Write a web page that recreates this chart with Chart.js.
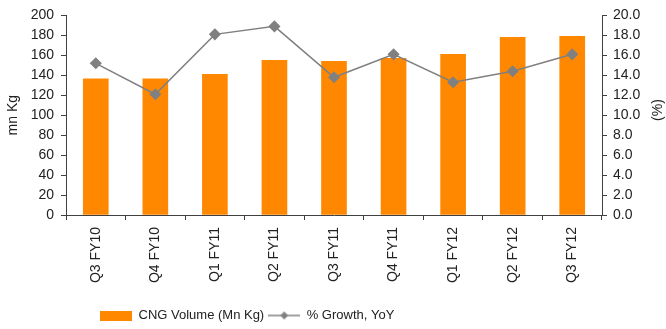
<!DOCTYPE html>
<html>
<head>
<meta charset="utf-8">
<script src="https://cdn.jsdelivr.net/npm/chart.js@4/dist/chart.umd.min.js"></script>
<style>
  html, body { margin: 0; padding: 0; background: #fff; }
  #wrap { width: 666px; height: 329px; }
</style>
</head>
<body>
<div id="wrap"><canvas id="cngChart"></canvas></div>
<script>
// CNG volume and growth by quarter

const quarters = ["Q3 FY10", "Q4 FY10", "Q1 FY11", "Q2 FY11", "Q3 FY11", "Q4 FY11", "Q1 FY12", "Q2 FY12", "Q3 FY12"];
const cngVolume = [136.5, 136.5, 141, 155, 154, 157, 161, 178, 179];
const growthYoY = [15.2, 12.1, 18.1, 18.9, 13.8, 16.1, 13.3, 14.4, 16.1];

const orange = "#ff8800";
const grey = "#808080";
const axisColor = "#404040";
const font = { family: "'Liberation Sans', Arial, sans-serif", size: 14 };
const legendFont = { family: "'Liberation Sans', Arial, sans-serif", size: 13 };

// legend swatches
const barSwatch = document.createElement("canvas");
barSwatch.width = 32;
barSwatch.height = 10;
let c = barSwatch.getContext("2d");
c.fillStyle = orange;
c.fillRect(0, 0, 32, 10);

const lineSwatch = document.createElement("canvas");
lineSwatch.width = 32;
lineSwatch.height = 10;
c = lineSwatch.getContext("2d");
c.strokeStyle = grey;
c.lineWidth = 1.5;
c.beginPath();
c.moveTo(0, 5);
c.lineTo(32, 5);
c.stroke();
c.fillStyle = grey;
c.beginPath();
c.moveTo(16, 1);
c.lineTo(20, 5);
c.lineTo(16, 9);
c.lineTo(12, 5);
c.closePath();
c.fill();

const layoutFix = {
  id: "layoutFix",
  afterLayout(chart) {
    const lg = chart.legend;
    const h = lg.bottom - lg.top;
    lg.left = 96;
    lg.top = 305;
    lg.bottom = lg.top + h;
  },
  afterDraw(chart) {
    const ctx = chart.ctx;
    ctx.save();
    ctx.translate(658, 110);
    ctx.rotate(-Math.PI / 2);
    ctx.font = "14px 'Liberation Sans', Arial, sans-serif";
    ctx.fillStyle = "#222";
    ctx.textAlign = "center";
    ctx.textBaseline = "middle";
    ctx.fillText("(%)", 0, 0);
    ctx.restore();
  },
};

const ctxChart = document.querySelector("#cngChart");
const chart = new Chart(ctxChart, {
  data: {
    labels: quarters,
    datasets: [
      {
        type: "bar",
        label: "CNG Volume (Mn Kg)",
        data: cngVolume,
        backgroundColor: orange,
        barThickness: 25,
        yAxisID: "y",
        order: 2,
      },
      {
        type: "line",
        label: "% Growth, YoY",
        data: growthYoY,
        borderColor: grey,
        borderWidth: 1.5,
        pointStyle: "rectRot",
        pointRadius: 5,
        pointBackgroundColor: grey,
        pointBorderColor: grey,
        yAxisID: "y1",
        order: 1,
      },
    ],
  },
  options: {
    responsive: true,
    maintainAspectRatio: false,
    animation: false,
    layout: { padding: { top: 14, left: 0, right: 0, bottom: 0 } },
    plugins: {
      legend: {
        position: "bottom",
        align: "start",
        labels: {
          usePointStyle: true,
          pointStyleWidth: 32,
          padding: 4,
          color: "#222",
          font: legendFont,
          generateLabels: (ch) =>
            ch.data.datasets.map((ds, i) => ({
              text: ds.label,
              pointStyle: i === 0 ? barSwatch : lineSwatch,
              datasetIndex: i,
              fontColor: "#222",
              lineWidth: 0,
              hidden: false,
            })),
        },
      },
      tooltip: { enabled: false },
    },
    scales: {
      x: {
        grid: { drawOnChartArea: false, tickLength: 5, color: axisColor },
        border: { color: axisColor },
        ticks: { minRotation: 90, maxRotation: 90, color: "#222", font: font, padding: 7 },
        afterFit: (s) => { s.height = 329 - 215 - s.chart.legend.height; },
      },
      y: {
        position: "left",
        min: 0,
        max: 200,
        grid: { drawOnChartArea: false, tickLength: 5, color: axisColor },
        border: { color: axisColor },
        ticks: { stepSize: 20, color: "#222", font: font, padding: 7 },
        title: { display: true, text: "mn Kg", color: "#222", font: font, padding: { top: 5, bottom: 0 } },
        afterFit: (s) => { s.width = 66; },
      },
      y1: {
        position: "right",
        min: 0,
        max: 20,
        grid: { drawOnChartArea: false, tickLength: 5, color: axisColor },
        border: { color: axisColor },
        ticks: {
          stepSize: 2,
          color: "#222",
          font: font,
          padding: 6,
          callback: (v) => v.toFixed(1),
        },
        afterFit: (s) => { s.width = 64; },
      },
    },
  },
  plugins: [layoutFix],
});
</script>
</body>
</html>
